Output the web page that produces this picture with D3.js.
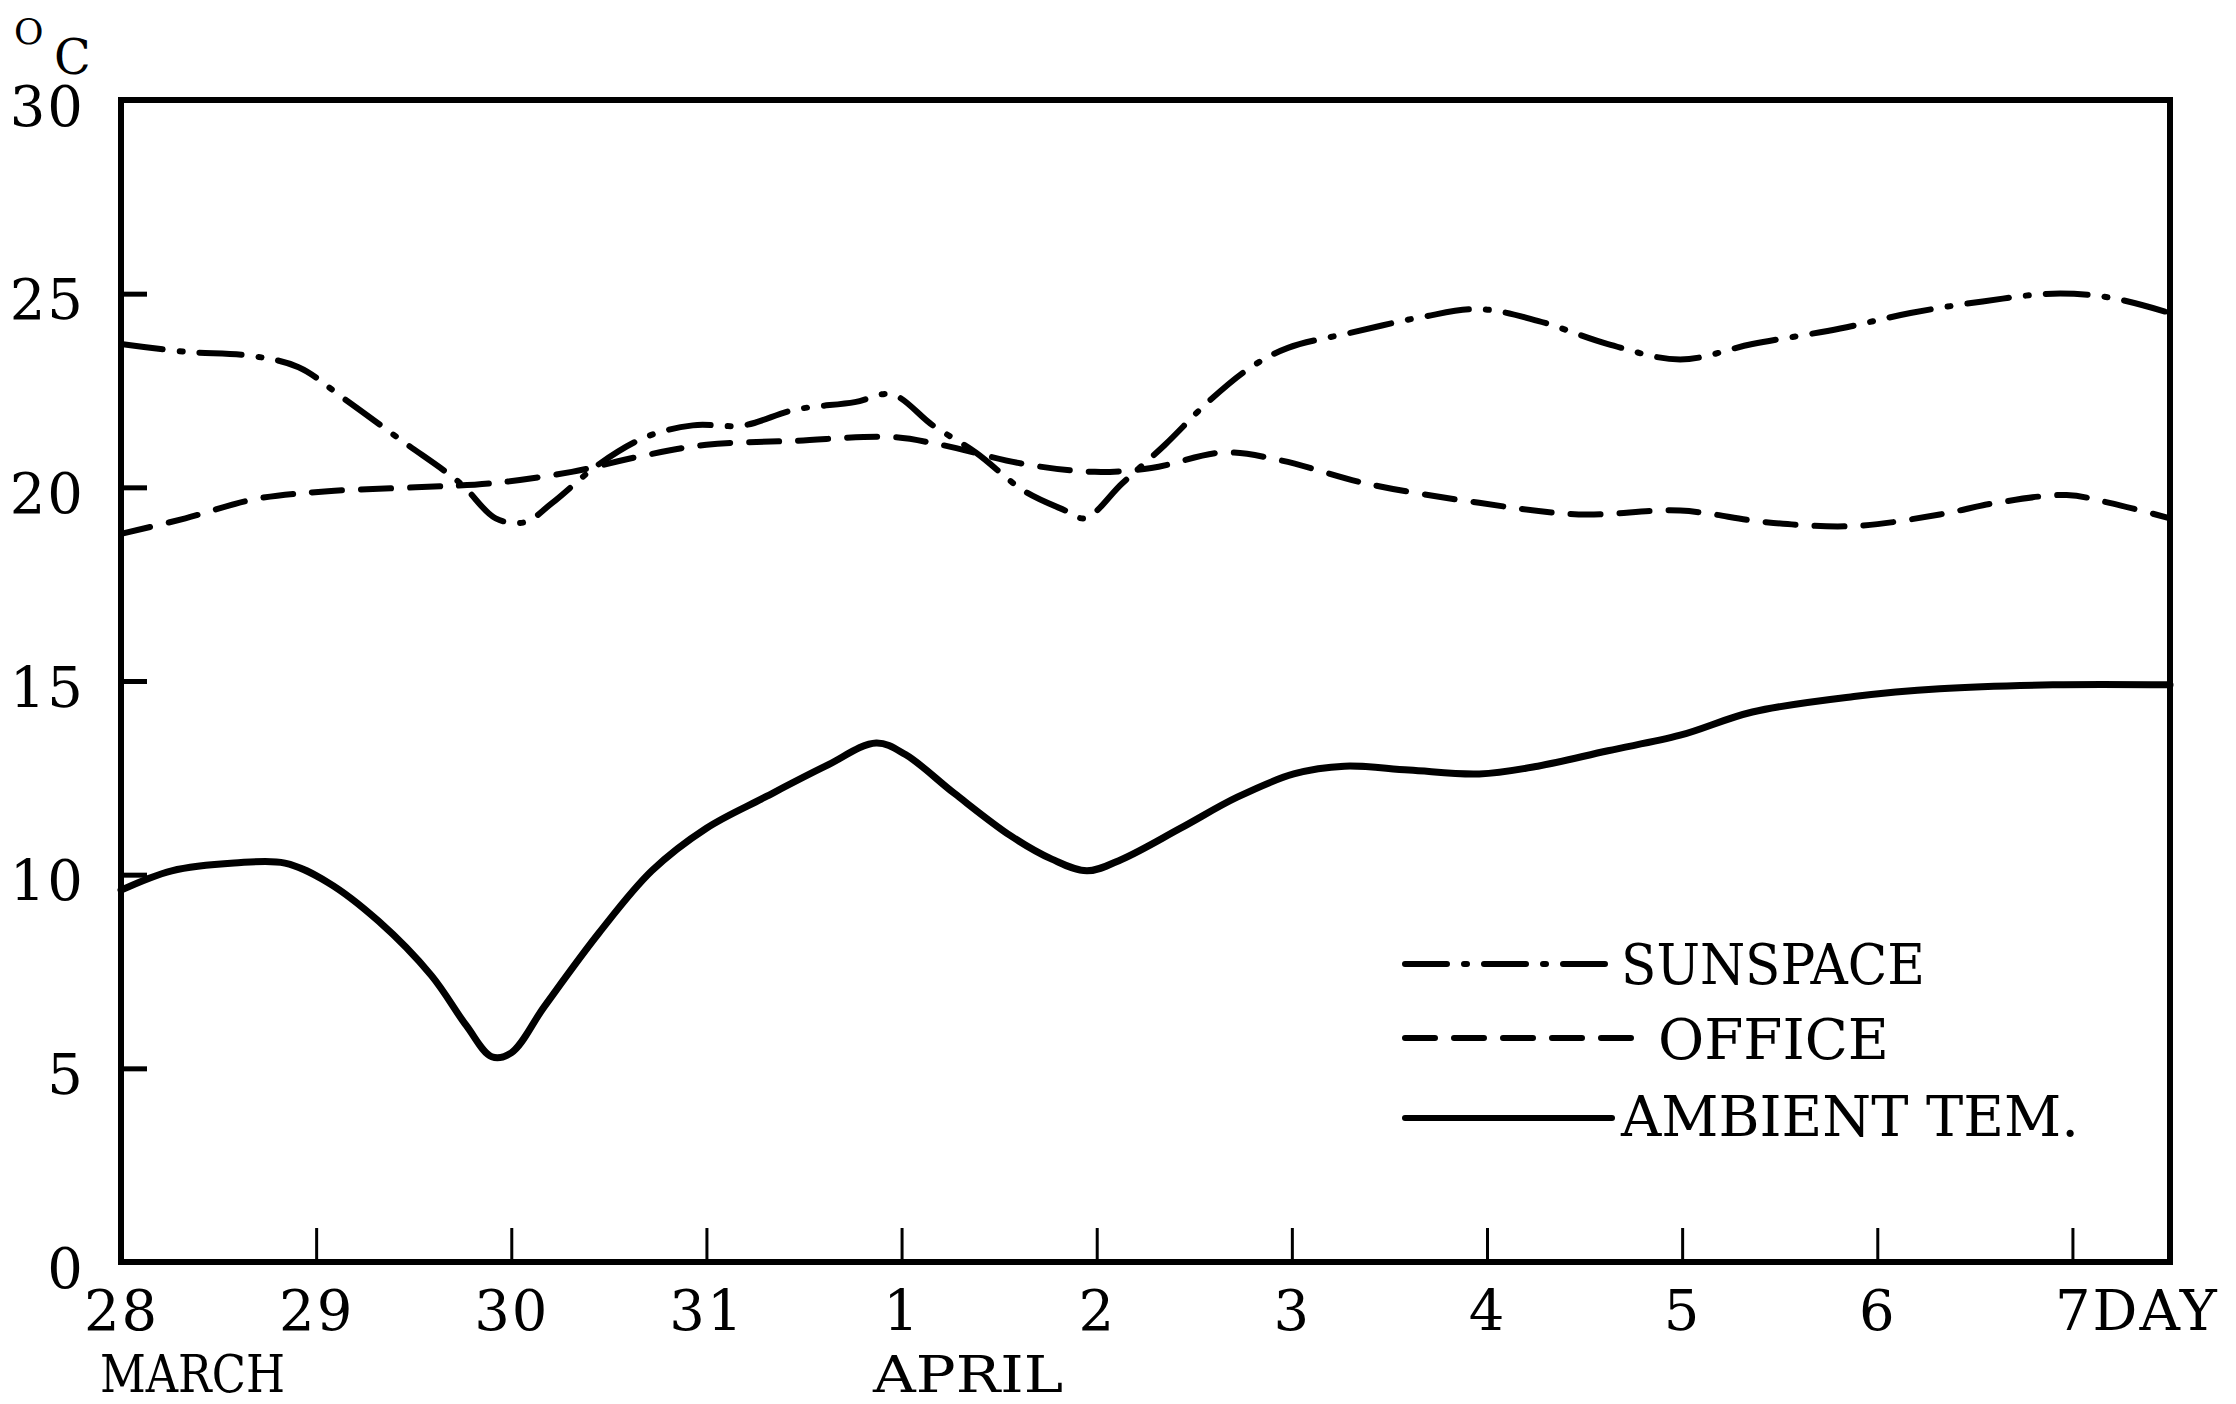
<!DOCTYPE html>
<html>
<head>
<meta charset="utf-8">
<script src="https://cdn.jsdelivr.net/npm/d3@7"></script>
<style>
  body { margin: 0; background: #fff; }
  svg text { font-family: "DejaVu Serif", "Liberation Serif", serif; fill: #000; }
</style>
</head>
<body>
<div id="chart"></div>
<script>
// days counted from 28 March (0) to 7 April (10)
var dayTicks = [0, 1, 2, 3, 4, 5, 6, 7, 8, 9, 10];
var dayLabels = ["28", "29", "30", "31", "1", "2", "3", "4", "5", "6", "7DAY"];
var tempTicks = [0, 5, 10, 15, 20, 25, 30];

var sunspaceDay = [0, 0.33, 0.66, 0.91, 1.14, 1.44, 1.74, 1.92, 2.07, 2.21, 2.45, 2.69, 2.93, 3.19, 3.45, 3.76, 3.95, 4.16, 4.38, 4.63,
  4.84, 4.94, 5.13, 5.35, 5.57, 5.79, 5.98, 6.31, 6.67, 6.96, 7.26, 7.62, 7.99, 8.36, 8.81, 9.17, 9.54, 9.90, 10.19, 10.5];
var sunspaceTemp = [23.7, 23.5, 23.4, 23.1, 22.3, 21.2, 20.1, 19.2, 19.1, 19.6, 20.6, 21.3, 21.6, 21.6, 22.0, 22.2, 22.4, 21.6, 20.9, 19.9,
  19.4, 19.2, 20.1, 21.1, 22.2, 23.1, 23.6, 24.0, 24.4, 24.6, 24.3, 23.7, 23.3, 23.7, 24.1, 24.5, 24.8, 25.0, 24.9, 24.5];

var officeDay = [0, 0.33, 0.69, 1.06, 1.51, 1.89, 2.31, 2.66, 3.0, 3.45, 3.95, 4.2, 4.63, 4.99, 5.28, 5.65, 5.94, 6.38, 6.96, 7.47,
  7.99, 8.43, 8.88, 9.32, 9.61, 9.97, 10.19, 10.5];
var officeTemp = [18.8, 19.2, 19.7, 19.9, 20.0, 20.1, 20.4, 20.8, 21.1, 21.2, 21.3, 21.1, 20.6, 20.4, 20.5, 20.9, 20.7, 20.1, 19.6, 19.3,
  19.4, 19.1, 19.0, 19.3, 19.6, 19.8, 19.6, 19.2];

var ambientDay = [0, 0.26, 0.58, 0.84, 1.06, 1.32, 1.59, 1.77, 1.90, 2.0, 2.17, 2.45, 2.72, 3.0, 3.30, 3.61, 3.87, 4.02, 4.27, 4.56,
  4.77, 4.95, 5.13, 5.43, 5.72, 6.01, 6.27, 6.60, 6.96, 7.26, 7.62, 7.99, 8.36, 8.88, 9.32, 9.90, 10.5];
var ambientTemp = [9.6, 10.1, 10.3, 10.3, 9.8, 8.8, 7.4, 6.1, 5.3, 5.4, 6.6, 8.5, 10.1, 11.2, 12.0, 12.8, 13.4, 13.1, 12.1, 11.0,
  10.4, 10.1, 10.4, 11.2, 12.0, 12.6, 12.8, 12.7, 12.6, 12.8, 13.2, 13.6, 14.2, 14.6, 14.8, 14.9, 14.9];

var seriesNames = ["SUNSPACE", "OFFICE", "AMBIENT TEM."];
var monthNames = ["MARCH", "APRIL"];

(function() {
  var width = 2236, height = 1404;
  var plotLeft = 121, plotRight = 2170, plotTop = 100, plotBottom = 1262;

  var svg = d3.select("#chart").append("svg")
    .attr("width", width)
    .attr("height", height);

  var x = d3.scaleLinear().domain([0, 10.5]).range([plotLeft, plotRight]);
  var y = d3.scaleLinear().domain([0, 30]).range([plotBottom, plotTop]);

  function zip(days, temps) {
    return days.map(function(d, i) { return { day: d, temp: temps[i] }; });
  }

  var series = [
    { name: seriesNames[0], values: zip(sunspaceDay, sunspaceTemp), dash: "42,17,3,17" },
    { name: seriesNames[1], values: zip(officeDay, officeTemp), dash: "30,19" },
    { name: seriesNames[2], values: zip(ambientDay, ambientTemp), dash: null }
  ];

  // axes, ticks point into the plot
  var xAxis = d3.axisBottom(x)
    .tickValues(dayTicks)
    .tickSize(-34)
    .tickPadding(28)
    .tickFormat(function(d, i) { return dayLabels[i]; });

  var gx = svg.append("g")
    .attr("transform", "translate(0," + plotBottom + ")")
    .call(xAxis);
  gx.select(".domain").remove();
  gx.selectAll(".tick line").attr("stroke", "#000").attr("stroke-width", 3);
  gx.selectAll(".tick text")
    .attr("font-size", 56)
    .attr("letter-spacing", 2)
    .attr("font-family", "DejaVu Serif");
  // "7DAY": the 7 sits on the tick, DAY trails after it
  gx.selectAll(".tick text").filter(function(d) { return d === 10; })
    .attr("text-anchor", "start")
    .attr("dx", -18);

  var yAxis = d3.axisLeft(y)
    .tickValues(tempTicks)
    .tickSize(-26)
    .tickPadding(36);

  var gy = svg.append("g")
    .attr("transform", "translate(" + plotLeft + ",0)")
    .call(yAxis);
  gy.select(".domain").remove();
  gy.selectAll(".tick line").attr("stroke", "#000").attr("stroke-width", 5);
  gy.selectAll(".tick text")
    .attr("font-size", 56)
    .attr("letter-spacing", 2)
    .attr("dy", "0.45em")
    .attr("font-family", "DejaVu Serif");

  // frame
  svg.append("rect")
    .attr("x", plotLeft)
    .attr("y", plotTop)
    .attr("width", plotRight - plotLeft)
    .attr("height", plotBottom - plotTop)
    .attr("fill", "none")
    .attr("stroke", "#000")
    .attr("stroke-width", 6);

  // unit label
  svg.append("text").attr("x", 14).attr("y", 44).attr("font-size", 36).text("O");
  svg.append("text").attr("x", 54).attr("y", 74).attr("font-size", 48).text("C");

  // month labels
  svg.append("text").attr("x", 100).attr("y", 1392).attr("font-size", 52)
    .attr("textLength", 185).attr("lengthAdjust", "spacingAndGlyphs").text(monthNames[0]);
  svg.append("text").attr("x", 873).attr("y", 1392).attr("font-size", 50)
    .attr("textLength", 190).attr("lengthAdjust", "spacingAndGlyphs").text(monthNames[1]);

  // curves
  var line = d3.line()
    .x(function(d) { return x(d.day); })
    .y(function(d) { return y(d.temp); })
    .curve(d3.curveCatmullRom.alpha(0.5));

  svg.selectAll(".series")
    .data(series)
    .enter().append("path")
    .attr("class", "series")
    .attr("d", function(d) { return line(d.values); })
    .attr("fill", "none")
    .attr("stroke", "#000")
    .attr("stroke-width", function(d) { return d.dash ? 6 : 7; })
    .attr("stroke-linecap", "round")
    .attr("stroke-dasharray", function(d) { return d.dash; });

  // legend
  var legendRows = [
    { y: 964, x1: 1405, x2: 1612, tx: 1621, ty: 984, tl: 304 },
    { y: 1038, x1: 1405, x2: 1640, tx: 1658, ty: 1059, tl: 231 },
    { y: 1118, x1: 1405, x2: 1612, tx: 1621, ty: 1136, tl: 458 }
  ];

  var legend = svg.append("g");
  series.forEach(function(s, i) {
    var r = legendRows[i];
    legend.append("line")
      .attr("x1", r.x1).attr("x2", r.x2)
      .attr("y1", r.y).attr("y2", r.y)
      .attr("stroke", "#000")
      .attr("stroke-width", 6)
      .attr("stroke-linecap", "round")
      .attr("stroke-dasharray", s.dash);
    legend.append("text")
      .attr("x", r.tx).attr("y", r.ty)
      .attr("font-size", 56)
      .attr("textLength", r.tl)
      .attr("lengthAdjust", "spacingAndGlyphs")
      .text(s.name);
  });
})();
</script>
</body>
</html>
